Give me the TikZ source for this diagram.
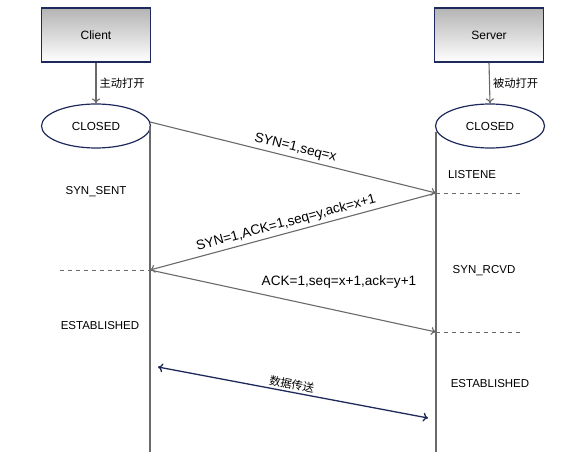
\documentclass[tikz,border=0pt]{standalone}
\usepackage{fontspec}
\setmainfont{Liberation Sans}
\newfontfamily\cjk{Noto Sans CJK SC}
\usetikzlibrary{arrows.meta,shapes.geometric,positioning}
\definecolor{navy}{HTML}{1F2A5C}
\definecolor{linegray}{HTML}{6A6A6A}
\definecolor{boxtop}{HTML}{B4B4B4}
\tikzset{
  actor/.style={draw=navy, line width=1.2pt, top color=boxtop, bottom color=white, minimum width=109pt, minimum height=54pt, inner sep=0pt, font=\fontsize{12}{14}\selectfont},
  stateell/.style={draw=navy, line width=1.2pt, fill=white, ellipse, minimum width=109pt, minimum height=44pt, inner sep=0pt, font=\fontsize{11.7}{14}\selectfont},
  msg/.style={draw=linegray, line width=1.1pt, -{To[length=5pt,width=8pt]}},
  life/.style={draw=linegray, line width=1.1pt},
  dashmark/.style={draw=linegray, line width=0.8pt, dash pattern=on 4pt off 4pt},
  lbl/.style={font=\fontsize{13.6}{16}\selectfont, inner sep=1pt},
  slbl/.style={font=\fontsize{11.5}{14}\selectfont, inner sep=1pt},
  cjklbl/.style={font=\cjk\fontsize{11.3}{13}\selectfont, inner sep=1pt}
}
\begin{document}
\begin{tikzpicture}[x=1pt,y=-1pt]
\useasboundingbox (0,0) rectangle (572,460);
\fill[white] (0,0) rectangle (572,460);
% actors
\node[actor] (client) at (96,35) {Client};
\node[actor] (server) at (489,35) {Server};
% states
\node[stateell] (cclosed) at (96,126) {CLOSED};
\node[stateell] (sclosed) at (490,126) {CLOSED};
\draw[msg] (client.south) -- node[right, cjklbl, xshift=2pt] {主动打开} (cclosed.north);
\draw[msg] (server.south) -- node[right, cjklbl, xshift=2pt] {被动打开} (sclosed.north);
% lifelines
\coordinate (cl0) at (150,126);
\coordinate (cl1) at (150,452);
\coordinate (sl0) at (436,132);
\coordinate (sl1) at (436,452);
\draw[life] (cl0) -- (cl1);
\draw[life] (sl0) -- (sl1);
% event points
\coordinate (c1) at (150,122);
\coordinate (s1) at (436,193);
\coordinate (c2) at (150,270);
\coordinate (s2) at (436,332);
\coordinate (d1) at (158,367);
\coordinate (d2) at (428,418);
% dashed marks
\coordinate (s1e) at (522,193);
\coordinate (c2e) at (60,270);
\coordinate (s2e) at (522,332);
\draw[dashmark] (s1) -- (s1e);
\draw[dashmark] (c2e) -- (c2);
\draw[dashmark] (s2) -- (s2e);
% messages
\draw[msg] (c1) -- node[pos=0.5, above, sloped, lbl, yshift=2pt] {SYN=1,seq=x} (s1);
\draw[msg] (s1) -- node[pos=0.515, above, sloped, lbl, yshift=2pt] {SYN=1,ACK=1,seq=y,ack=x+1} (c2);
\draw[msg] (c2) -- (s2);
\node[lbl] (ack) at (339,282) {ACK=1,seq=x+1,ack=y+1};
\draw[draw=navy, line width=1.3pt, {To[length=5pt,width=9pt]}-{To[length=5pt,width=9pt]}] (d1) -- node[pos=0.49, above, sloped, cjklbl, yshift=1pt] {数据传送} (d2);
% state labels
\node[slbl] (synsent) at (96,192) {SYN\_SENT};
\node[slbl] (cest) at (100,326) {ESTABLISHED};
\node[slbl] (listen) at (472,175) {LISTENE};
\node[slbl] (synrcvd) at (484,271) {SYN\_RCVD};
\node[slbl] (sest) at (490,384) {ESTABLISHED};
\end{tikzpicture}
\end{document}
